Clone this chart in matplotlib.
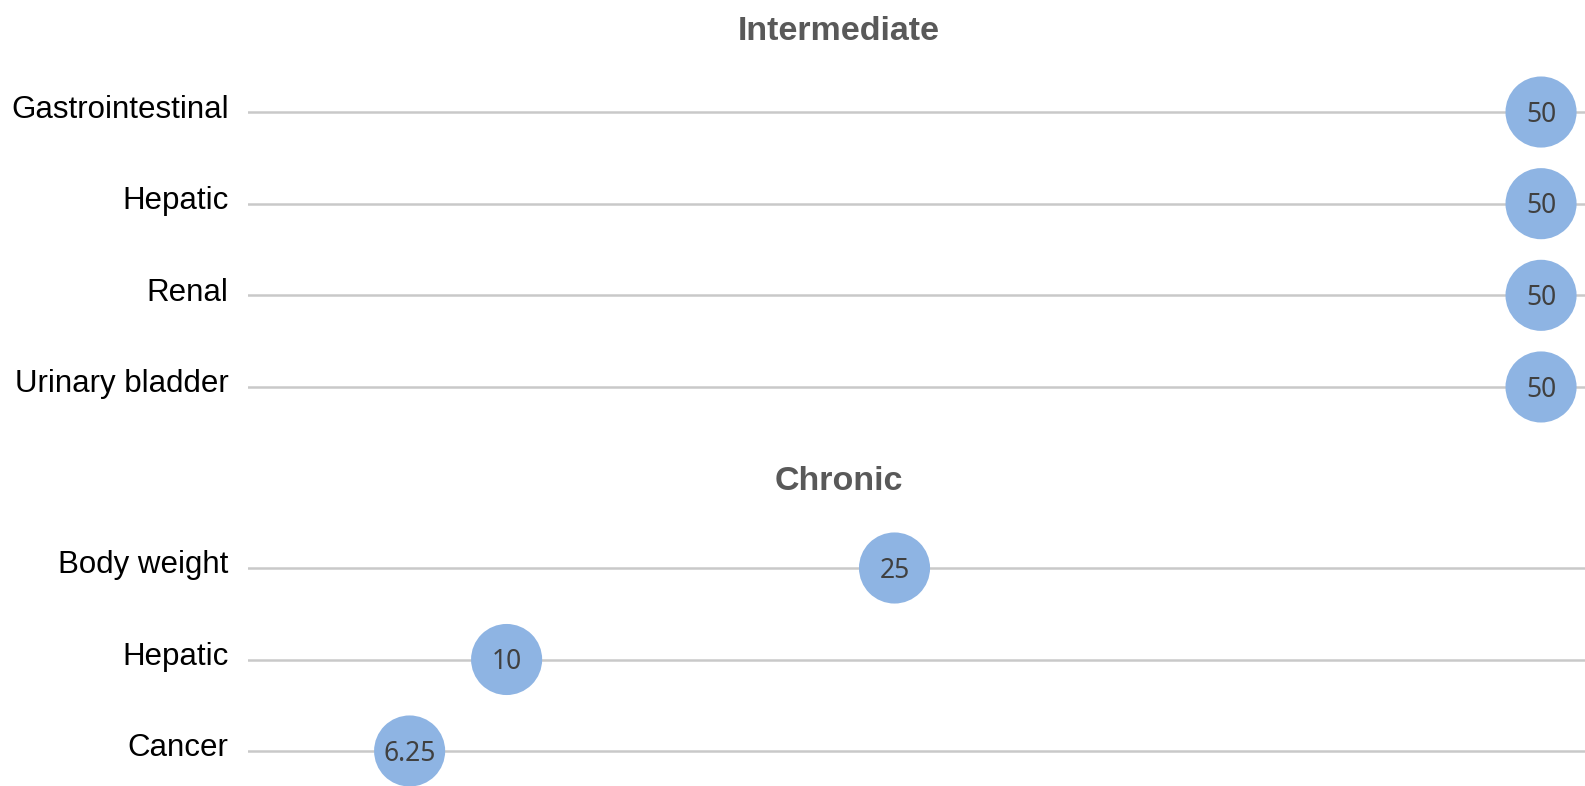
import matplotlib
matplotlib.use("Agg")
import matplotlib.pyplot as plt
from matplotlib.transforms import ScaledTranslation

# Intermediate-duration endpoints
inter_labels = ["Gastrointestinal", "Hepatic", "Renal", "Urinary bladder"]
inter_values = [50, 50, 50, 50]

# Chronic-duration endpoints
chronic_labels = ["Body weight", "Hepatic", "Cancer"]
chronic_values = [25, 10, 6.25]

panel_titles = ["Intermediate", "Chronic"]

W, H = 1585, 786
fig = plt.figure(figsize=(W / 100, H / 100), dpi=100)

BUBBLE = "#8EB4E3"
GRID = "#C9C9C9"
TITLE_C = "#595959"
XMAX = 51.7

def px_axes(left, top, right, bottom):
    return fig.add_axes([left / W, 1 - bottom / H, (right - left) / W, (bottom - top) / H])

def panel(ax, labels, values, ylim):
    n = len(labels)
    ys = list(range(n - 1, -1, -1))
    for y in ys:
        ax.axhline(y, color=GRID, lw=1.8, zorder=1)
    ax.scatter(values, ys, s=2620, color=BUBBLE, edgecolors="none", zorder=3, clip_on=False)
    for v, y in zip(values, ys):
        ax.text(v, y - 0.03, f"{v:g}", ha="center", va="center", fontsize=19,
                family="Noto Sans", color="#404040", zorder=4)
    ax.set_xlim(0, XMAX)
    ax.set_ylim(*ylim)
    ax.set_yticks(ys)
    ax.set_yticklabels(labels, fontsize=22.5, family="Liberation Sans", color="black")
    ax.tick_params(axis="y", length=0, pad=14)
    lift = ScaledTranslation(0, 6 / 100, fig.dpi_scale_trans)
    for lab in ax.get_yticklabels():
        lab.set_transform(lab.get_transform() + lift)
    ax.set_xticks([])
    for s in ax.spines.values():
        s.set_visible(False)
    ax.patch.set_alpha(0)

# top panel: rows at y=112 .. 387 px
ax1 = px_axes(248, 112 - 45.8, W, 387 + 45.8)
panel(ax1, inter_labels, inter_values, (-0.5, 3.5))

# bottom panel: rows at y=568 .. 751 px
ax2 = px_axes(248, 568 - 45.75, W, 751 + 45.75)
panel(ax2, chronic_labels, chronic_values, (-0.5, 2.5))

fig.text(839 / W, 1 - 31 / H, panel_titles[0], ha="center", va="center",
         fontsize=24.5, fontweight="bold", family="Liberation Sans", color=TITLE_C)
fig.text(839 / W, 1 - 482 / H, panel_titles[1], ha="center", va="center",
         fontsize=24.5, fontweight="bold", family="Liberation Sans", color=TITLE_C)

fig.savefig("out.png", dpi=100, facecolor="white")
